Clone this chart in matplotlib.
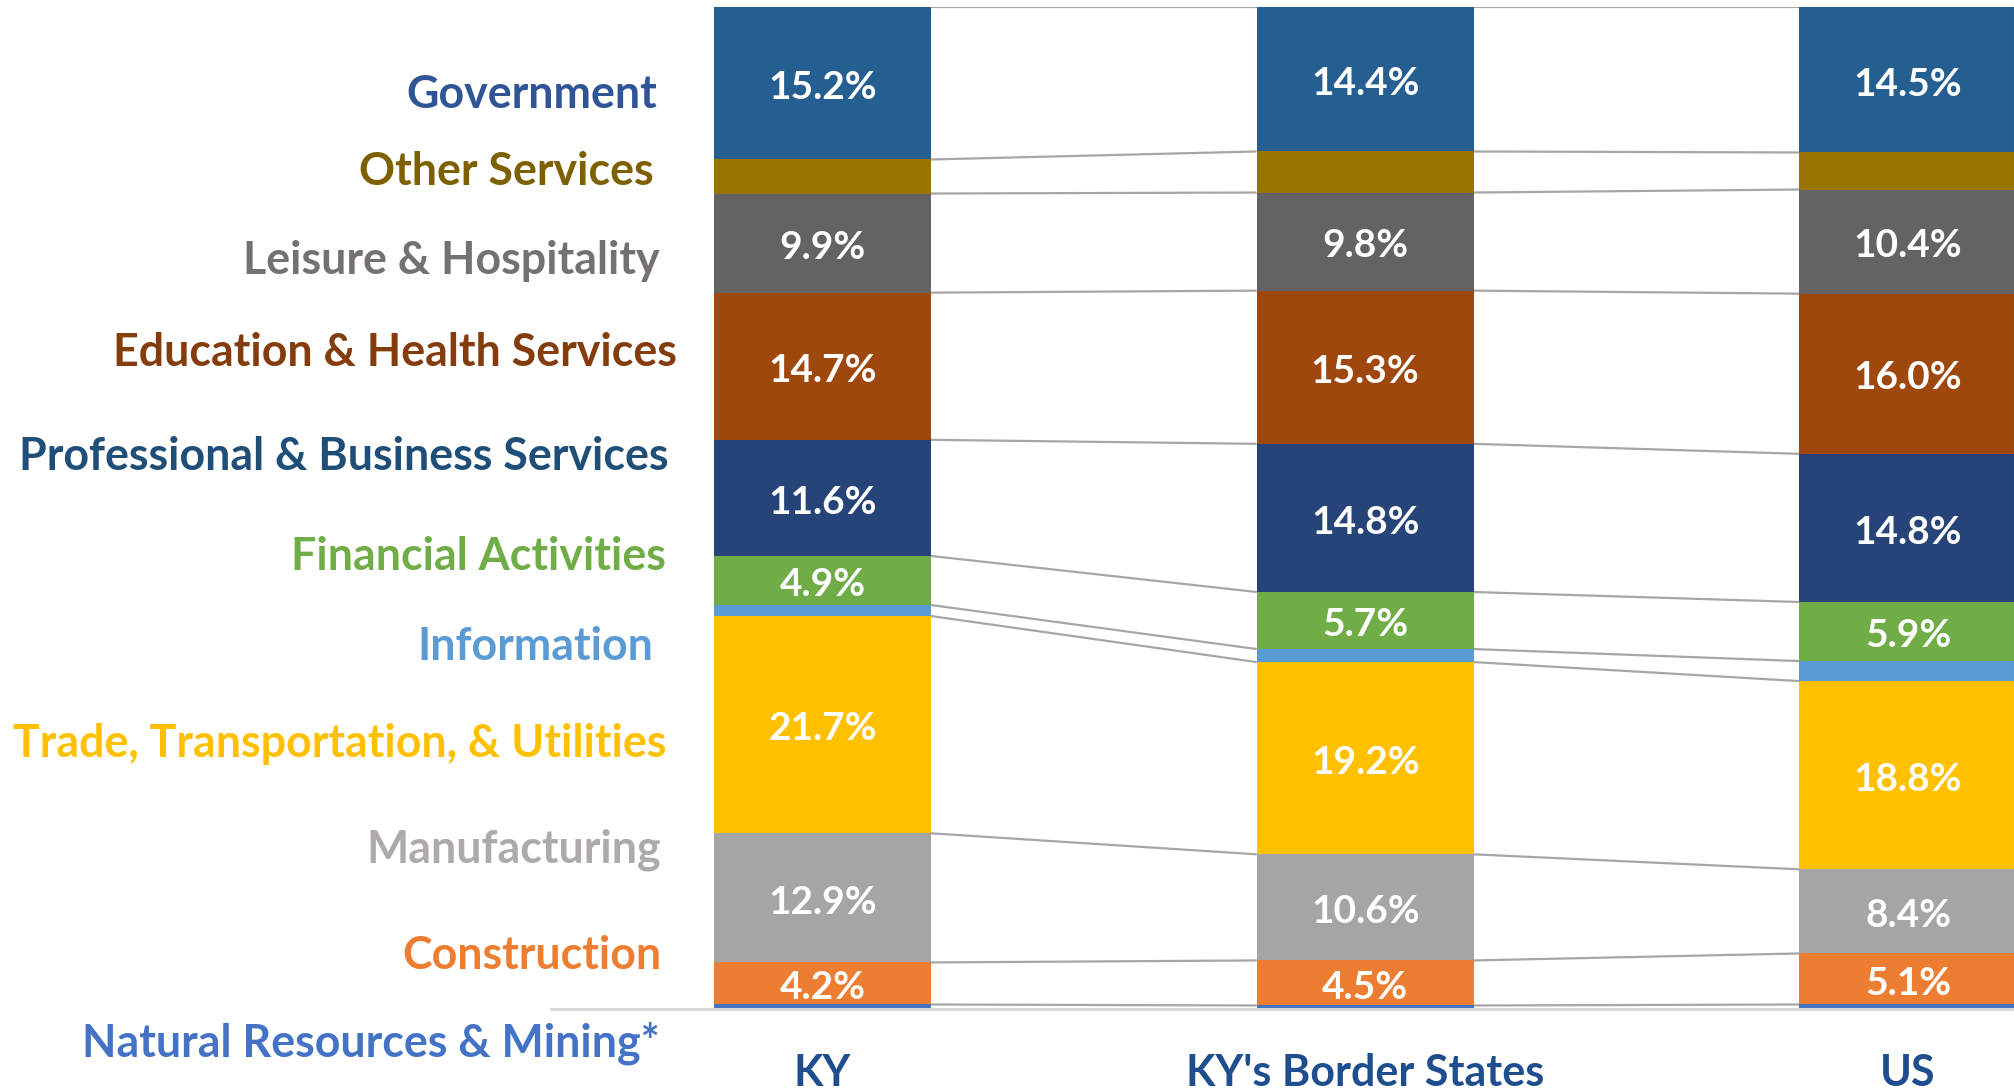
import matplotlib
matplotlib.use("Agg")
import matplotlib.pyplot as plt
import numpy as np

plt.rcParams['font.family'] = ['Lato', 'DejaVu Sans']

categories = ["KY", "KY's Border States", "US"]

sectors = ["Natural Resources & Mining*", "Construction", "Manufacturing",
           "Trade, Transportation, & Utilities", "Information", "Financial Activities",
           "Professional & Business Services", "Education & Health Services",
           "Leisure & Hospitality", "Other Services", "Government"]

natres = [0.4, 0.3, 0.4]
constr = [4.2, 4.5, 5.1]
manuf = [12.9, 10.6, 8.4]
trade = [21.7, 19.2, 18.8]
info = [1.1, 1.3, 2.0]
fin = [4.9, 5.7, 5.9]
prof = [11.6, 14.8, 14.8]
edu = [14.7, 15.3, 16.0]
leisure = [9.9, 9.8, 10.4]
other = [3.4, 4.1, 3.7]
gov = [15.2, 14.4, 14.5]

series = [natres, constr, manuf, trade, info, fin, prof, edu, leisure, other, gov]
show_label = [False, True, True, True, False, True, True, True, True, False, True]

bar_colors = ['#4472C4', '#ED7D31', '#A5A5A5', '#FFC000', '#5B9BD5', '#70AD47',
              '#264478', '#9E480E', '#636363', '#997300', '#255E91']
text_colors = ['#4472C4', '#ED7D31', '#AEAAAA', '#FFC000', '#5B9BD5', '#70AD47',
               '#1F4E79', '#843C0C', '#767171', '#7F6000', '#2F5597']
# left label anchor (right edge x px, center y px) in the 2015x1091 canvas
label_pos = [(660, 1043), (661, 956), (661, 850), (666, 744), (653, 647), (666, 557),
             (669, 457), (677, 353), (660, 261), (654, 172), (657, 95)]

W, H = 2015, 1091
fig = plt.figure(figsize=(W / 100, H / 100), dpi=100)
ax_left = 551 / W
ax_bottom = (H - 1008.5) / H
ax_height = (1008.5 - 7.3) / H
ax = fig.add_axes([ax_left, ax_bottom, 1 - ax_left, ax_height])

x = np.arange(len(categories))
bw = 0.4
bottom = np.zeros(len(categories))
tops = []
for vals, col, lab in zip(series, bar_colors, show_label):
    v = np.array(vals, dtype=float)
    ax.bar(x, v, bw, bottom=bottom, color=col, edgecolor='none', zorder=2)
    if lab:
        for xi, b, vi in zip(x, bottom, v):
            ax.annotate(f"{vi:.1f}%", (xi, b + vi / 2), xytext=(0, -3),
                        textcoords='offset points', ha='center', va='center',
                        color='white', fontsize=28, fontweight='bold', zorder=4)
    bottom = bottom + v
    tops.append(bottom.copy())

# series lines
for t in tops:
    for i in range(len(categories) - 1):
        ax.plot([x[i] + bw / 2, x[i + 1] - bw / 2], [t[i], t[i + 1]],
                color='#A6A6A6', lw=1.6, zorder=1, solid_capstyle='butt')

ax.set_xlim(-0.5, 2 + (W - 1908) / 543)
ax.set_ylim(0, 100)
for s in ['top', 'right', 'left']:
    ax.spines[s].set_visible(False)
ax.spines['bottom'].set_color('#D9D9D9')
ax.spines['bottom'].set_linewidth(2.2)
ax.set_xticks([])
ax.set_yticks([])

for xi, c in zip(x, categories):
    ax.text(xi, -(1073 - 1008.5) / (1008.5 - 7.3), c, transform=ax.get_xaxis_transform(),
            ha='center', va='center', color='#1F4E8F', fontsize=31, fontweight='bold')

for name, col, (px, py) in zip(sectors, text_colors, label_pos):
    fig.text(px / W, 1 - py / H, name, ha='right', va='center', color=col,
             fontsize=32.2, fontweight='bold')

fig.savefig('out.png', dpi=100)
